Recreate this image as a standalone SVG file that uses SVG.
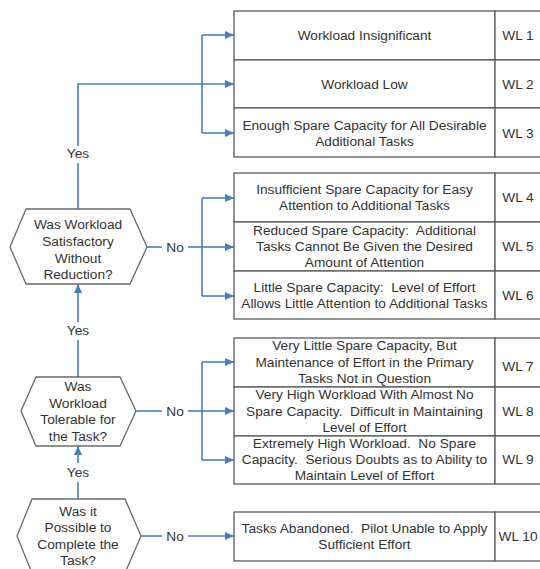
<svg xmlns="http://www.w3.org/2000/svg" width="540" height="569" viewBox="0 0 540 569">
  <style>
    text { font-family: "Liberation Sans", Arial, sans-serif; font-size: 13.7px; fill: #333333; text-anchor: middle; white-space: pre; }
    .box { fill: #ffffff; stroke: #5a5a5a; stroke-width: 1.3; }
    .hex { fill: #ffffff; stroke: #6a6a6a; stroke-width: 1.3; }
    .wire { fill: none; stroke: #4a7ebf; stroke-width: 1.6; }
    .arrow { marker-end: url(#head); }
  </style>
  <defs>
    <marker id="head" markerUnits="userSpaceOnUse" markerWidth="9" markerHeight="8" refX="9" refY="4" orient="auto">
      <path d="M0,0 L9,4 L0,8 z" fill="#4a7ebf"/>
    </marker>
  </defs>
  <rect width="540" height="569" fill="#ffffff"/>

  <!-- connectors -->
  <g id="connectors">
    <!-- Yes: satisfactory -> WL 1-3 -->
    <path class="wire" d="M78,209 V163"/>
    <path class="wire arrow" d="M78,146 V84 H234"/>
    <path class="wire" d="M202,35 V133"/>
    <path class="wire arrow" d="M202,35 H234"/>
    <path class="wire arrow" d="M202,133 H234"/>
    <text x="78" y="158">Yes</text>

    <!-- No: satisfactory -> WL 4-6 -->
    <path class="wire" d="M147,247 H162"/>
    <text x="175" y="252">No</text>
    <path class="wire" d="M188,247 H202"/>
    <path class="wire" d="M202,198 V296"/>
    <path class="wire arrow" d="M202,198 H234"/>
    <path class="wire arrow" d="M202,247 H234"/>
    <path class="wire arrow" d="M202,296 H234"/>

    <!-- Yes: tolerable -> satisfactory -->
    <path class="wire" d="M78,377 V340"/>
    <path class="wire arrow" d="M78,322 V284"/>
    <text x="78" y="335">Yes</text>

    <!-- No: tolerable -> WL 7-9 -->
    <path class="wire" d="M136,411 H162"/>
    <text x="175" y="416">No</text>
    <path class="wire" d="M188,411 H202"/>
    <path class="wire" d="M202,362 V460"/>
    <path class="wire arrow" d="M202,362 H234"/>
    <path class="wire arrow" d="M202,411 H234"/>
    <path class="wire arrow" d="M202,460 H234"/>

    <!-- Yes: possible -> tolerable -->
    <path class="wire" d="M78,499 V482"/>
    <path class="wire arrow" d="M78,463 V446"/>
    <text x="78" y="477">Yes</text>

    <!-- No: possible -> WL 10 -->
    <path class="wire" d="M141,536 H162"/>
    <text x="175" y="541">No</text>
    <path class="wire arrow" d="M188,536 H234"/>
  </g>

  <!-- decision nodes -->
  <g id="q-satisfactory">
    <polygon class="hex" points="10,247 26,209 130,209 147,247 130,284 26,284"/>
    <text x="78" y="229">Was Workload</text>
    <text x="78" y="246">Satisfactory</text>
    <text x="78" y="263">Without</text>
    <text x="78" y="279">Reduction?</text>
  </g>
  <g id="q-tolerable">
    <polygon class="hex" points="21,411 36,377 120,377 136,411 120,446 36,446"/>
    <text x="78" y="391">Was</text>
    <text x="78" y="408">Workload</text>
    <text x="78" y="424">Tolerable for</text>
    <text x="78" y="441">the Task?</text>
  </g>
  <g id="q-possible">
    <polygon class="hex" points="17,536 32,499 125,499 141,536 125,573 32,573"/>
    <text x="78" y="516">Was it</text>
    <text x="78" y="532">Possible to</text>
    <text x="78" y="549">Complete the</text>
    <text x="78" y="565">Task?</text>
  </g>

  <!-- workload levels -->
  <g id="wl1">
    <rect class="box" x="234" y="11" width="261" height="49"/>
    <rect class="box" x="495" y="11" width="50" height="49"/>
    <text x="364.5" y="40">Workload Insignificant</text>
    <text x="518" y="40">WL 1</text>
  </g>
  <g id="wl2">
    <rect class="box" x="234" y="60" width="261" height="48"/>
    <rect class="box" x="495" y="60" width="50" height="48"/>
    <text x="364.5" y="89">Workload Low</text>
    <text x="518" y="89">WL 2</text>
  </g>
  <g id="wl3">
    <rect class="box" x="234" y="108" width="261" height="49"/>
    <rect class="box" x="495" y="108" width="50" height="49"/>
    <text x="364.5" y="130">Enough Spare Capacity for All Desirable</text>
    <text x="364.5" y="146">Additional Tasks</text>
    <text x="518" y="138">WL 3</text>
  </g>

  <g id="wl4">
    <rect class="box" x="234" y="173" width="261" height="49"/>
    <rect class="box" x="495" y="173" width="50" height="49"/>
    <text x="364.5" y="194">Insufficient Spare Capacity for Easy</text>
    <text x="364.5" y="210">Attention to Additional Tasks</text>
    <text x="518" y="202">WL 4</text>
  </g>
  <g id="wl5">
    <rect class="box" x="234" y="222" width="261" height="49"/>
    <rect class="box" x="495" y="222" width="50" height="49"/>
    <text x="364.5" y="235">Reduced Spare Capacity:  Additional</text>
    <text x="364.5" y="251">Tasks Cannot Be Given the Desired</text>
    <text x="364.5" y="267">Amount of Attention</text>
    <text x="518" y="251">WL 5</text>
  </g>
  <g id="wl6">
    <rect class="box" x="234" y="271" width="261" height="48"/>
    <rect class="box" x="495" y="271" width="50" height="48"/>
    <text x="364.5" y="292">Little Spare Capacity:  Level of Effort</text>
    <text x="364.5" y="308">Allows Little Attention to Additional Tasks</text>
    <text x="518" y="300">WL 6</text>
  </g>

  <g id="wl7">
    <rect class="box" x="234" y="338" width="261" height="49"/>
    <rect class="box" x="495" y="338" width="50" height="49"/>
    <text x="364.5" y="350">Very Little Spare Capacity, But</text>
    <text x="364.5" y="367">Maintenance of Effort in the Primary</text>
    <text x="364.5" y="383">Tasks Not in Question</text>
    <text x="518" y="371">WL 7</text>
  </g>
  <g id="wl8">
    <rect class="box" x="234" y="387" width="261" height="49"/>
    <rect class="box" x="495" y="387" width="50" height="49"/>
    <text x="364.5" y="399">Very High Workload With Almost No</text>
    <text x="364.5" y="416">Spare Capacity.  Difficult in Maintaining</text>
    <text x="364.5" y="432">Level of Effort</text>
    <text x="518" y="416">WL 8</text>
  </g>
  <g id="wl9">
    <rect class="box" x="234" y="436" width="261" height="48"/>
    <rect class="box" x="495" y="436" width="50" height="48"/>
    <text x="364.5" y="448">Extremely High Workload.  No Spare</text>
    <text x="364.5" y="464">Capacity.  Serious Doubts as to Ability to</text>
    <text x="364.5" y="480">Maintain Level of Effort</text>
    <text x="518" y="464">WL 9</text>
  </g>

  <g id="wl10">
    <rect class="box" x="234" y="512" width="261" height="49"/>
    <rect class="box" x="495" y="512" width="50" height="49"/>
    <text x="364.5" y="533">Tasks Abandoned.  Pilot Unable to Apply</text>
    <text x="364.5" y="549">Sufficient Effort</text>
    <text x="518" y="541">WL 10</text>
  </g>
</svg>
